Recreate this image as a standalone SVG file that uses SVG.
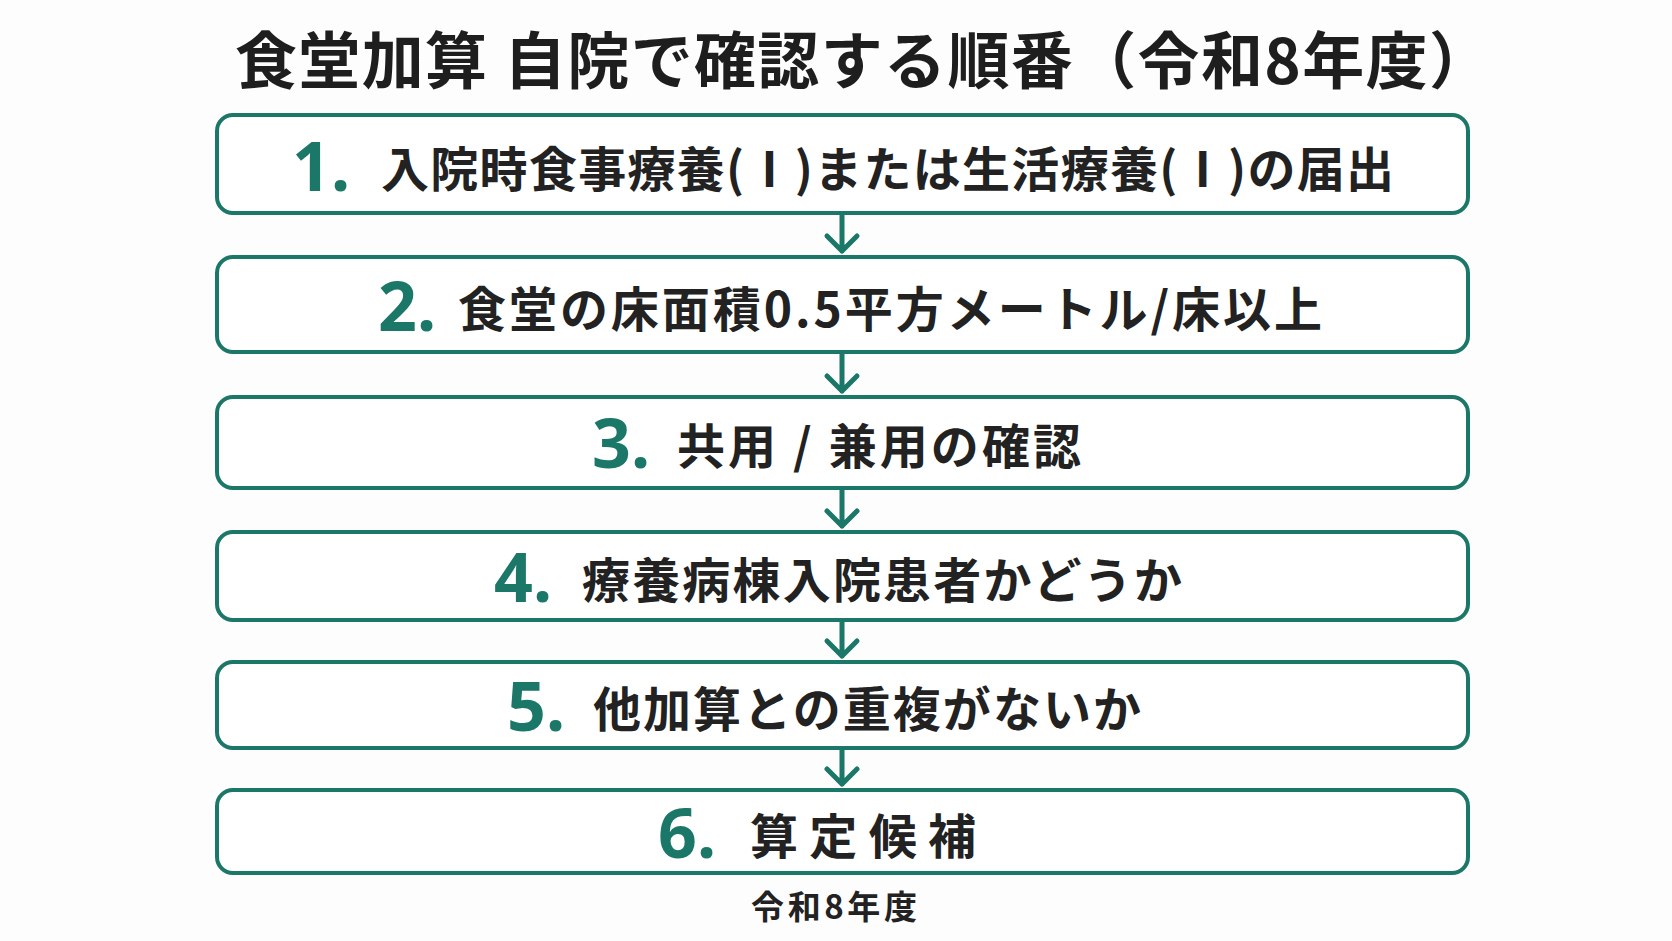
<svg xmlns="http://www.w3.org/2000/svg" width="1672" height="941" viewBox="0 0 1672 941">
<style>
.box{fill:#ffffff;stroke:#1b7767;stroke-width:4}
.num{font-family:"Noto Sans","Open Sans","Noto Sans CJK JP",sans-serif;font-weight:700;font-size:68px;fill:#1b7767}
.txt{font-family:"Noto Sans CJK JP","Noto Sans",sans-serif;font-weight:700;font-size:48px;fill:#222222}
.title{font-family:"Noto Sans CJK JP","Noto Sans",sans-serif;font-weight:700;font-size:62px;fill:#1e1e1e}
.foot{font-family:"Noto Sans CJK JP","Noto Sans",sans-serif;font-weight:700;font-size:33px;fill:#222222}
.conn{fill:none;stroke:#1b7767;stroke-width:5;stroke-linecap:round;stroke-linejoin:round}
</style>
<rect width="1672" height="941" fill="#fdfdfd"/>
<text id="title" class="title" x="235" y="84" textLength="1256" lengthAdjust="spacing">食堂加算 自院で確認する順番（令和8年度）</text>
<g id="connectors">
<path class="conn" d="M842 213 V251 M827 236 L842 251 L857 236"/>
<path class="conn" d="M842 352 V391 M827 376 L842 391 L857 376"/>
<path class="conn" d="M842 488 V526 M827 511 L842 526 L857 511"/>
<path class="conn" d="M842 620 V656 M827 641 L842 656 L857 641"/>
<path class="conn" d="M842 748 V784 M827 769 L842 784 L857 769"/>
</g>
<g id="step1">
<rect class="box" x="217" y="115" width="1251" height="98" rx="16"/>
<text class="num" x="292" y="191">1.</text>
<text class="txt" x="381" y="187" textLength="1013" lengthAdjust="spacing">入院時食事療養(Ⅰ)または生活療養(Ⅰ)の届出</text>
</g>
<g id="step2">
<rect class="box" x="217" y="257" width="1251" height="95" rx="16"/>
<text class="num" x="378" y="331">2.</text>
<text class="txt" x="458" y="327" textLength="864" lengthAdjust="spacing">食堂の床面積0.5平方メートル/床以上</text>
</g>
<g id="step3">
<rect class="box" x="217" y="397" width="1251" height="91" rx="16"/>
<text class="num" x="592" y="468">3.</text>
<text class="txt" x="677" y="464" textLength="404" lengthAdjust="spacing">共用 / 兼用の確認</text>
</g>
<g id="step4">
<rect class="box" x="217" y="532" width="1251" height="88" rx="16"/>
<text class="num" x="494" y="602">4.</text>
<text class="txt" x="582" y="598" textLength="600" lengthAdjust="spacing">療養病棟入院患者かどうか</text>
</g>
<g id="step5">
<rect class="box" x="217" y="662" width="1251" height="86" rx="16"/>
<text class="num" x="507" y="731">5.</text>
<text class="txt" x="593" y="727" textLength="548" lengthAdjust="spacing">他加算との重複がないか</text>
</g>
<g id="step6">
<rect class="box" x="217" y="790" width="1251" height="83" rx="16"/>
<text class="num" x="658" y="858">6.</text>
<text class="txt" x="750" y="854" textLength="226" lengthAdjust="spacing">算定候補</text>
</g>
<text id="footer" class="foot" x="751" y="919" textLength="166" lengthAdjust="spacing">令和8年度</text>
</svg>
